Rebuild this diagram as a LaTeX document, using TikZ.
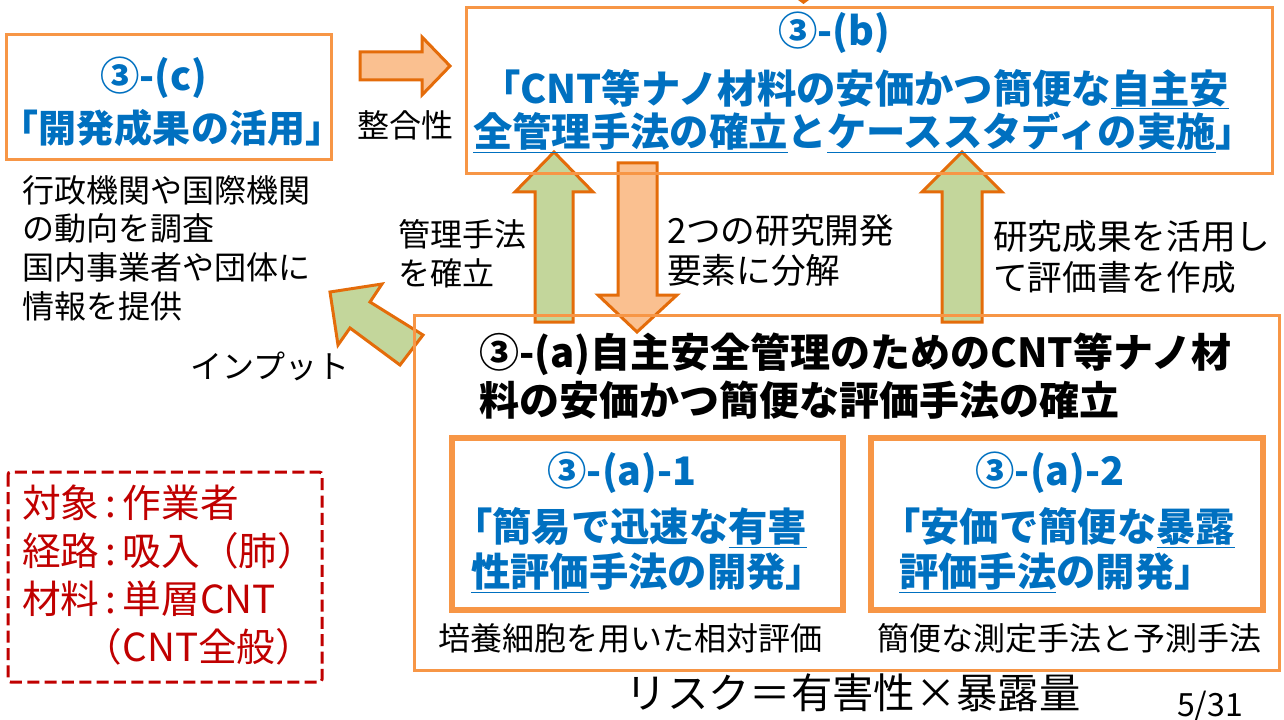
\documentclass[tikz,border=0pt]{standalone}
\usepackage{fontspec}
\setmainfont{Noto Sans CJK JP}
\usetikzlibrary{positioning}
\definecolor{box_orange}{HTML}{F79646}
\definecolor{arrow_orange}{HTML}{E46C0A}
\definecolor{fill_orange}{HTML}{FAC090}
\definecolor{fill_green}{HTML}{C3D69B}
\definecolor{title_blue}{HTML}{0070C0}
\definecolor{note_red}{HTML}{C00000}

\begin{document}
\begin{tikzpicture}[
        x=0.75pt, y=-0.75pt,
        every node/.style={inner sep=0pt, outer sep=0pt},
        frame/.style={draw=box_orange, line width=2.25pt},
        subframe/.style={draw=box_orange, line width=5pt},
        fatgreen/.style={fill=fill_green, draw=arrow_orange, line width=2.25pt},
        fatorange/.style={fill=fill_orange, draw=arrow_orange, line width=2.25pt},
        heading/.style={text=title_blue, font=\fontsize{29.5}{32}\selectfont\bfseries, align=center},
        plain/.style={font=\fontsize{24}{29}\selectfont, align=left}
    ]
        \useasboundingbox (0,0) rectangle (1284,720);

        % -------- Frecce grosse --------
        \fill[arrow_orange] (798,0) -- (809,0) -- (803.5,4) -- cycle;
        % integrazione (c) -> (b)
        \draw[fatorange] (360,52) -- (422,52) -- (422,37) -- (450,66) -- (422,95) -- (422,80) -- (360,80) -- cycle;
        % (a) -> (b), metodo
        \draw[fatgreen] (535,322) -- (535,192) -- (515,192) -- (554,152) -- (593,192) -- (573,192) -- (573,322) -- cycle;
        % (b) -> (a), scomposizione
        \draw[fatorange] (618,163) -- (657,163) -- (657,295) -- (677,295) -- (637,332) -- (598,295) -- (618,295) -- cycle;
        % (a) -> (b), valutazione
        \draw[fatgreen] (942,322) -- (942,192) -- (922,192) -- (962,152) -- (1002,192) -- (982,192) -- (982,322) -- cycle;
        % (a) -> (c), input
        \draw[fatgreen] (330,292) -- (382,284) -- (370,302) -- (423,335) -- (400,365) -- (350,328) -- (338,345) -- cycle;

        % -------- Riquadri --------
        \draw[frame] (466,8) rectangle (1272,174);
        \draw[frame] (6,35) rectangle (331,160);
        \draw[frame] (414,315) rectangle (1279,670);
        \draw[subframe] (452,438) rectangle (843,610);
        \draw[subframe] (871,438) rectangle (1263,610);
        \draw[note_red, line width=2.25pt, dash pattern=on 9pt off 4pt, rounded corners=2pt] (8,472) rectangle (322,682);

        % -------- (b) --------
        \node[heading] (bnum) at (834,33) {③-(b)};
        \node[heading, font=\fontsize{29.5}{32.5}\selectfont\bfseries] (btext) at (864,111) {\hspace*{-0.45em}「CNT等ナノ材料の安価かつ簡便な\underline{自主安}\\
            \underline{全管理手法の確立}と\underline{ケーススタディの実施}」};

        % -------- (c) --------
        \node[heading] (cnum) at (154,78) {③-(c)};
        \node[heading, font=\fontsize{28.5}{32}\selectfont\bfseries] (ctext) at (172,128) {「開発成果の活用」};
        \node[plain, anchor=west] (cnote) at (22,248) {行政機関や国際機関\\の動向を調査\\国内事業者や団体に\\情報を提供};

        % -------- etichette frecce --------
        \node[plain] (seigo) at (405,125) {整合性};
        \node[plain, anchor=west] (kanri) at (398,254) {管理手法\\を確立};
        \node[font=\fontsize{26}{30}\selectfont, align=left, anchor=west] (bunkai) at (667,250) {2つの研究開発\\要素に分解};
        \node[font=\fontsize{26}{31}\selectfont, align=left, anchor=west] (hyoka) at (993,257) {研究成果を活用し\\て評価書を作成};
        \node[plain] (input) at (270,366) {インプット};

        % -------- (a) --------
        \node[font=\fontsize{30}{36}\selectfont\bfseries, align=left, anchor=west] (atext) at (479,376)
            {③-(a)自主安全管理のためのCNT等ナノ材\\料の安価かつ簡便な評価手法の確立};
        \node[heading] (a1num) at (622,473) {③-(a)-1};
        \node[heading, font=\fontsize{29.5}{34}\selectfont\bfseries, align=left, anchor=west] (a1text) at (471,550)
            {\hspace*{-0.45em}「簡易で迅速な\underline{有害}\\\underline{性評価}手法の開発」};
        \node[heading] (a2num) at (1050,473) {③-(a)-2};
        \node[heading, font=\fontsize{29.5}{34}\selectfont\bfseries, align=left, anchor=west] (a2text) at (899,550)
            {\hspace*{-0.45em}「安価で簡便な\underline{暴露}\\\underline{評価手法}の開発」};
        \node[plain] (a1note) at (630,638) {培養細胞を用いた相対評価};
        \node[plain] (a2note) at (1069,638) {簡便な測定手法と予測手法};

        % -------- in basso --------
        \node[font=\fontsize{31}{36}\selectfont] (risk) at (853,693) {リスク＝有害性×暴露量};
        \node[plain] (page) at (1210,707) {5/31};

        % -------- nota rossa --------
        \node[text=note_red, font=\fontsize{29}{36}\selectfont, align=left, anchor=west] (target) at (22,575)
            {対象\,:\,作業者\\経路\,:\,吸入（肺）\\材料\,:\,単層CNT\\\hspace*{1.6em}（CNT全般）};
    \end{tikzpicture}
\end{document}
